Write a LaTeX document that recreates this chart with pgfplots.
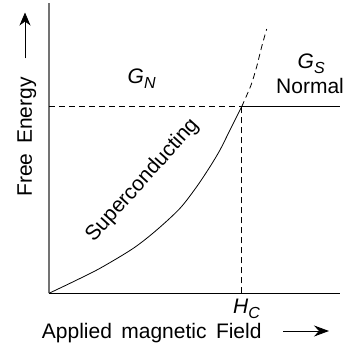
\documentclass[border=0pt]{standalone}
\usepackage{fontspec}
\setmainfont{Liberation Sans}
\usepackage{pgfplots}
\pgfplotsset{compat=1.18}
\usetikzlibrary{arrows.meta}

\newcommand\fs{\fontsize{21}{25}\selectfont}
\newcommand\sub[1]{\raisebox{-0.25em}{\fontsize{16}{16}\selectfont\itshape #1}}

\begin{document}
\begin{tikzpicture}
\begin{axis}[
  scale only axis, width=291pt, height=290.3pt,
  xmin=49, xmax=340, ymin=55.7, ymax=346,
  axis x line=bottom, axis y line=left,
  x axis line style={-, black, line width=0.9pt},
  y axis line style={-, gray!90!black, line width=1.5pt},
  xtick=\empty, ytick=\empty,
  clip=false,
]
% invisible frame: 348 x 349 page
\path (axis cs:0,0) rectangle (axis cs:348,349);

% superconducting free energy, solid part
\addplot[black, line width=0.8pt, smooth, tension=0.5] coordinates {
(49,55.7) (73.3,67.3) (100,80.7) (133.3,100.7) (156.7,119)
(180,140.7) (196.7,162.3) (210,182.3) (220,199) (230,219)
(236.7,232.3) (241.7,242.3)
};
% continued (dashed) above H_C
\addplot[black, line width=0.8pt, smooth, tension=0.5, dash pattern=on 6pt off 4pt] coordinates {
(241.7,242.3) (248.3,257.3) (251.7,265.7) (256.7,282.3) (261.7,302.3) (266.7,320)
};
% normal state level
\addplot[black, line width=0.8pt, dash pattern=on 6pt off 4pt] coordinates {(49,242.3) (241.7,242.3)};
\addplot[black, line width=0.8pt] coordinates {(241.7,242.3) (340,242.3)};
% H_C
\addplot[black, line width=0.8pt, dash pattern=on 6pt off 4pt] coordinates {(241.7,55.7) (241.7,242.3)};

\node[font=\fs, anchor=base west, inner sep=0pt] at (axis cs:127.5,265.7) {\itshape G\sub{N}};
\node[font=\fs, anchor=base west, inner sep=0pt] at (axis cs:297.5,280.7) {\itshape G\sub{S}};
\node[font=\fs, anchor=base west, inner sep=0pt] at (axis cs:276,255.7) {Normal};
\node[font=\fs, anchor=base west, inner sep=0pt] at (axis cs:233,35.7) {\itshape H\sub{C}};
\node[font=\fs, rotate=48, inner sep=0pt] at (axis cs:142.5,168.5) {Superconducting};

\node[font=\fs, anchor=base west, inner sep=0pt] at (axis cs:41.7,10.7)
  {Applied\hspace{0.45em}magnetic\hspace{0.45em}Field};
\draw[black, line width=0.8pt, -{Stealth[length=15pt, width=11pt, inset=5pt]}]
  (axis cs:283.3,18) -- (axis cs:329,18);
\node[font=\fs, rotate=90, anchor=base west, inner sep=0pt] at (axis cs:32,152.3)
  {Free\hspace{0.45em}Energy};
\draw[black, line width=0.8pt, -{Stealth[length=13pt, width=11pt, inset=4pt]}]
  (axis cs:25,290.7) -- (axis cs:25,336.5);
\end{axis}
\end{tikzpicture}
\end{document}
